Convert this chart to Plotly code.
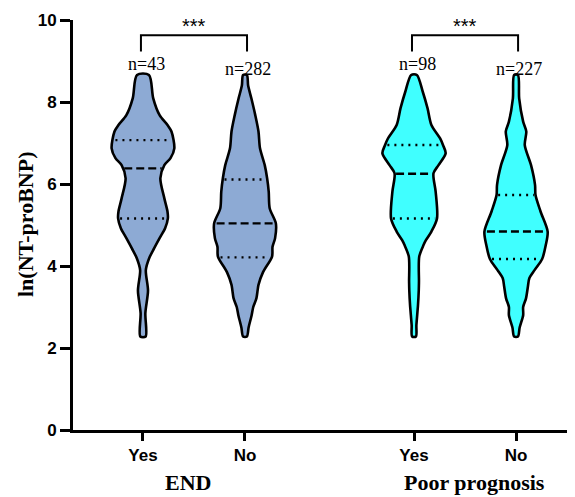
import numpy as np
import plotly.graph_objects as go

# ---------------- data ----------------
groups = ["END", "Poor prognosis"]
subgroups = ["Yes", "No"]
n_labels = ["n=43", "n=282", "n=98", "n=227"]
sig_labels = ["***", "***"]

# violin outlines: ln(NT-proBNP) levels and relative density (half-width)
end_yes_y = [2.28, 2.85, 3.40, 3.90, 4.19, 4.43, 4.68, 4.92, 5.16, 5.33, 5.65, 6.14, 6.46, 6.63, 6.87, 7.28, 7.44, 7.68, 8.09, 8.66]
end_yes_w = [2.8, 2.5, 5.3, 3.0, 6.5, 11.7, 17.5, 23.3, 26.2, 25.8, 22.5, 18.3, 22.5, 29.0, 33.0, 30.0, 25.8, 17.5, 10.8, 6.3]

end_no_y = [2.28, 2.50, 2.80, 3.00, 3.21, 3.41, 3.54, 3.85, 4.23, 4.47, 4.68, 5.04, 5.41, 5.81, 6.14, 6.46, 6.87, 7.28, 7.68, 8.09, 8.40, 8.66]
end_no_w = [2.0, 3.8, 7.0, 8.7, 12.0, 13.3, 14.2, 19.0, 28.5, 29.0, 31.7, 32.5, 26.0, 25.0, 23.3, 20.8, 15.8, 14.2, 10.8, 6.7, 3.3, 2.0]

poor_yes_y = [2.28, 2.56, 3.05, 3.41, 3.62, 4.23, 4.51, 4.63, 4.84, 5.16, 5.81, 6.26, 6.46, 6.75, 6.95, 7.11, 7.44, 7.85, 8.25, 8.66]
poor_yes_w = [2.0, 2.5, 4.2, 5.0, 5.2, 5.5, 10.0, 12.5, 18.3, 24.2, 22.8, 20.5, 25.8, 33.3, 30.5, 27.5, 18.3, 14.2, 9.2, 3.0]

poor_no_y = [2.28, 2.50, 2.80, 3.00, 3.21, 3.50, 3.70, 3.90, 4.17, 4.51, 4.84, 5.33, 5.73, 5.98, 6.46, 6.95, 7.28, 7.52, 8.09, 8.66]
poor_no_w = [2.0, 3.8, 7.5, 7.5, 10.5, 12.5, 14.0, 19.5, 27.5, 31.3, 33.3, 25.8, 20.5, 20.0, 15.8, 9.2, 10.8, 7.5, 3.3, 2.0]

medians = [6.38, 5.04, 6.25, 4.84]
q1 = [5.16, 4.21, 5.16, 4.17]
q3 = [7.07, 6.11, 6.95, 5.73]

profiles_y = [end_yes_y, end_no_y, poor_yes_y, poor_no_y]
profiles_w = [end_yes_w, end_no_w, poor_yes_w, poor_no_w]

# ---------------- styling / layout ----------------
colors = ["#8DAAD4", "#8DAAD4", "#40FFFF", "#40FFFF"]
group_gap = 0.657
max_half = 0.31

W, H = 567, 489          # page adds an 8px body margin
ML, MR, MT, MB = 65, 0, 12, 67
plot_w = W - ML - MR

positions = []
for gi in range(len(groups)):
    for si in range(len(subgroups)):
        positions.append(1 + gi * (len(subgroups) + group_gap) + si)

fig = go.Figure()

wmax = max(max(w) for w in profiles_w)
for i in range(4):
    ys = np.array(profiles_y[i], dtype=float)
    ws = np.array(profiles_w[i], dtype=float)
    half = ws / wmax * max_half
    c = positions[i]
    xs = np.concatenate([c + half, (c - half)[::-1]])
    yy = np.concatenate([ys, ys[::-1]])
    xs = np.append(xs, xs[0])
    yy = np.append(yy, yy[0])
    fig.add_trace(go.Scatter(
        x=xs, y=yy, mode="lines", fill="toself", fillcolor=colors[i],
        line=dict(color="black", width=2.6, shape="spline", smoothing=0.8),
        hoverinfo="skip", showlegend=False))

    # median and quartile lines
    for val, dash in [(medians[i], "8px,4px"), (q1[i], "2px,5px"), (q3[i], "2px,5px")]:
        h = np.interp(val, ys, half) * 0.92
        fig.add_trace(go.Scatter(
            x=[c - h, c + h], y=[val, val], mode="lines",
            line=dict(color="black", width=2.4, dash=dash),
            hoverinfo="skip", showlegend=False))

    fig.add_annotation(x=c + 0.03, y=8.93 if i % 2 == 0 else 8.80, text=n_labels[i],
                       showarrow=False, xanchor="center", yanchor="middle",
                       font=dict(family="Liberation Serif", size=18, color="black"))

# significance brackets
for gi in range(len(groups)):
    a = positions[gi * 2]
    b = positions[gi * 2 + 1]
    fig.add_trace(go.Scatter(
        x=[a - 0.02, a - 0.02, b + 0.02, b + 0.02], y=[9.23, 9.63, 9.63, 9.23], mode="lines",
        line=dict(color="black", width=2), hoverinfo="skip", showlegend=False))
    fig.add_annotation(x=(a + b) / 2, y=9.86, text=sig_labels[gi], showarrow=False,
                       xanchor="center", yanchor="middle",
                       font=dict(family="Liberation Sans", size=20, color="black"))

# group labels
group_centers = [1.44, 4.245]
for gi, g in enumerate(groups):
    fig.add_annotation(x=group_centers[gi], xref="x", y=-0.128, yref="paper",
                       text="<b>%s</b>" % g, showarrow=False,
                       xanchor="center", yanchor="middle",
                       font=dict(family="Liberation Serif", size=22, color="black"))

# y axis title
fig.add_annotation(x=-48 / plot_w, xref="paper", y=0.5, yref="paper",
                   text="<b>ln(NT-proBNP)</b>", textangle=-90, showarrow=False,
                   xanchor="center", yanchor="middle",
                   font=dict(family="Liberation Serif", size=22, color="black"))

tick_text = [s for _ in groups for s in subgroups]

fig.update_layout(
    width=W, height=H,
    margin=dict(l=ML, r=MR, t=MT, b=MB),
    paper_bgcolor="white", plot_bgcolor="white",
    showlegend=False,
    xaxis=dict(range=[0.314, 5.235], tickvals=positions, ticktext=tick_text,
               showline=True, linecolor="black", linewidth=3,
               ticks="outside", ticklen=8, tickwidth=3, tickcolor="black",
               showgrid=False, zeroline=False,
               tickfont=dict(family="Liberation Sans", size=17, color="black", weight="bold")),
    yaxis=dict(range=[0, 10], tickvals=[0, 2, 4, 6, 8, 10],
               showline=True, linecolor="black", linewidth=3,
               ticks="outside", ticklen=10, tickwidth=3, tickcolor="black",
               showgrid=False, zeroline=False,
               tickfont=dict(family="Liberation Sans", size=17, color="black", weight="bold")),
)

fig.write_html("out.html")
